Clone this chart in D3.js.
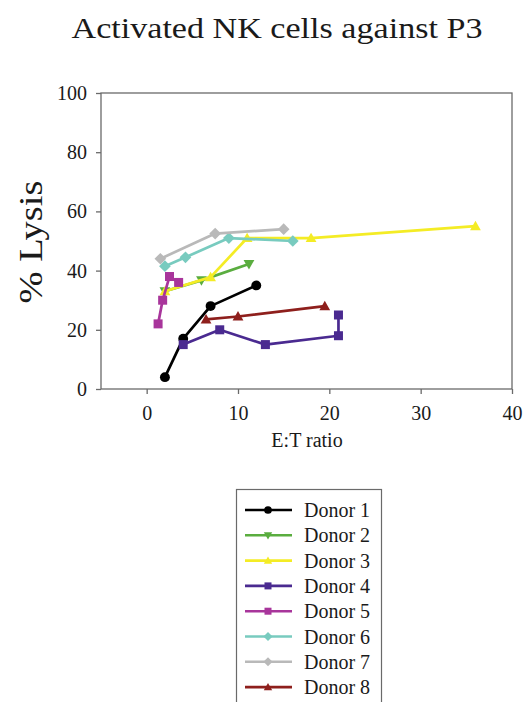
<!DOCTYPE html>
<html>
<head>
<meta charset="utf-8">
<script src="https://cdn.jsdelivr.net/npm/d3@7"></script>
<style>
  html, body { margin: 0; padding: 0; background: #fff; }
  svg { display: block; }
</style>
</head>
<body>
<svg id="chart" width="529" height="702"></svg>
<script>
// Series: E:T ratio (x) and % lysis (y) for each donor
const donorNames = ["Donor 1", "Donor 2", "Donor 3", "Donor 4", "Donor 5", "Donor 6", "Donor 7", "Donor 8"];
const donor1X = [2, 4, 7, 12];
const donor1Y = [4, 17, 28, 35];
const donor2X = [2, 6, 11.2];
const donor2Y = [33, 36.7, 42.2];
const donor3X = [2, 7, 11, 18, 36];
const donor3Y = [33, 37.8, 51, 51, 55];
const donor4X = [4, 8, 13, 21, 21];
const donor4Y = [15, 20, 15, 18, 25];
const donor5X = [1.25, 1.75, 2.5, 3.5];
const donor5Y = [22, 30, 38, 36];
const donor6X = [2, 4.25, 9, 16];
const donor6Y = [41.5, 44.5, 51, 50];
const donor7X = [1.5, 7.5, 15];
const donor7Y = [44, 52.5, 54];
const donor8X = [6.5, 10, 19.5];
const donor8Y = [23.5, 24.5, 28];

const xTicks = [0, 10, 20, 30, 40];
const yTicks = [0, 20, 40, 60, 80, 100];

const seriesX = [donor1X, donor2X, donor3X, donor4X, donor5X, donor6X, donor7X, donor8X];
const seriesY = [donor1Y, donor2Y, donor3Y, donor4Y, donor5Y, donor6Y, donor7Y, donor8Y];
const colors = ["#000000", "#5aad3f", "#f4ec25", "#4a2a90", "#a8359b", "#78cbbf", "#b9b9b9", "#8e1f1c"];
const shapes = ["circle", "triangleDown", "triangleUp", "square", "square", "diamond", "diamond", "triangleUp"];

const series = donorNames.map((name, i) => ({
  name, color: colors[i], shape: shapes[i],
  points: seriesX[i].map((x, j) => ({ x, y: seriesY[i][j] }))
}));

const SERIF = "'Liberation Serif', 'Times New Roman', Times, serif";
const INK = "#1a1a1a";

const svg = d3.select("#chart");
const plot = { left: 101, right: 512, top: 93, bottom: 389 };

const x = d3.scaleLinear().domain([-5, 40]).range([plot.left, plot.right]);
const y = d3.scaleLinear().domain([0, 100]).range([plot.bottom, plot.top]);

function label(sel) {
  return sel.style("font-family", SERIF).attr("fill", INK);
}

// Title
svg.append("text")
  .call(label)
  .attr("x", 277).attr("y", 38)
  .attr("text-anchor", "middle")
  .style("font-size", "30px")
  .attr("textLength", 411).attr("lengthAdjust", "spacingAndGlyphs")
  .text("Activated NK cells against P3");

// Plot frame
svg.append("rect")
  .attr("x", plot.left).attr("y", plot.top)
  .attr("width", plot.right - plot.left).attr("height", plot.bottom - plot.top)
  .attr("fill", "none").attr("stroke", "#6a6a6a").attr("stroke-width", 1.3);

// Axes
const yAxis = d3.axisLeft(y).tickValues(yTicks).tickSize(5).tickPadding(9).tickFormat(d3.format("d"));
const gy = svg.append("g").attr("transform", `translate(${plot.left},0)`).call(yAxis);
const xAxis = d3.axisBottom(x).tickValues(xTicks).tickSize(5).tickPadding(12).tickFormat(d3.format("d"));
const gx = svg.append("g").attr("transform", `translate(0,${plot.bottom})`).call(xAxis);
[gy, gx].forEach(g => {
  g.attr("font-family", null).attr("font-size", null);
  g.select(".domain").remove();
  g.selectAll(".tick line").attr("stroke", "#6a6a6a").attr("stroke-width", 1.3);
  g.selectAll(".tick text").call(label).style("font-size", "20px");
});

// Axis titles
svg.append("text")
  .call(label)
  .attr("x", 307).attr("y", 447)
  .attr("text-anchor", "middle")
  .style("font-size", "20px")
  .text("E:T ratio");

svg.append("text")
  .call(label)
  .attr("transform", "translate(42,242) rotate(-90)")
  .attr("text-anchor", "middle")
  .style("font-size", "34px")
  .attr("textLength", 123).attr("lengthAdjust", "spacingAndGlyphs")
  .text("% Lysis");

// Marker shapes
function marker(sel, shape, color, s) {
  if (shape === "circle") {
    sel.append("circle").attr("r", s * 0.55).attr("fill", color);
  } else if (shape === "square") {
    sel.append("rect").attr("x", -s / 2).attr("y", -s / 2).attr("width", s).attr("height", s).attr("fill", color);
  } else if (shape === "diamond") {
    const d = s * 0.65;
    sel.append("path").attr("d", `M0,${-d}L${d},0L0,${d}L${-d},0Z`).attr("fill", color);
  } else if (shape === "triangleUp") {
    const d = s * 0.6;
    sel.append("path").attr("d", `M0,${-d}L${d},${d * 0.75}L${-d},${d * 0.75}Z`).attr("fill", color);
  } else if (shape === "triangleDown") {
    const d = s * 0.6;
    sel.append("path").attr("d", `M0,${d}L${d},${-d * 0.75}L${-d},${-d * 0.75}Z`).attr("fill", color);
  }
}

const line = d3.line().x(d => x(d.x)).y(d => y(d.y));

series.forEach(s => {
  const g = svg.append("g");
  g.append("path").datum(s.points)
    .attr("d", line)
    .attr("fill", "none").attr("stroke", s.color).attr("stroke-width", 2.7)
    .attr("stroke-linejoin", "round");
  s.points.forEach(p => {
    const m = g.append("g").attr("transform", `translate(${x(p.x)},${y(p.y)})`);
    marker(m, s.shape, s.color, 9);
  });
});

// Legend
const legend = svg.append("g");
legend.append("rect")
  .attr("x", 236.5).attr("y", 489.5).attr("width", 145).attr("height", 230)
  .attr("fill", "#fff").attr("stroke", "#6a6a6a").attr("stroke-width", 1.2);
series.forEach((s, i) => {
  const cy = 510 + i * 25.3;
  const row = legend.append("g").attr("transform", `translate(0,${cy})`);
  row.append("line").attr("x1", 245).attr("x2", 292).attr("y1", 0).attr("y2", 0)
    .attr("stroke", s.color).attr("stroke-width", 2.6);
  const m = row.append("g").attr("transform", "translate(268,0)");
  marker(m, s.shape, s.color, 7);
  row.append("text").call(label)
    .attr("x", 304).attr("y", 7)
    .style("font-size", "20px")
    .text(s.name);
});
</script>
</body>
</html>
